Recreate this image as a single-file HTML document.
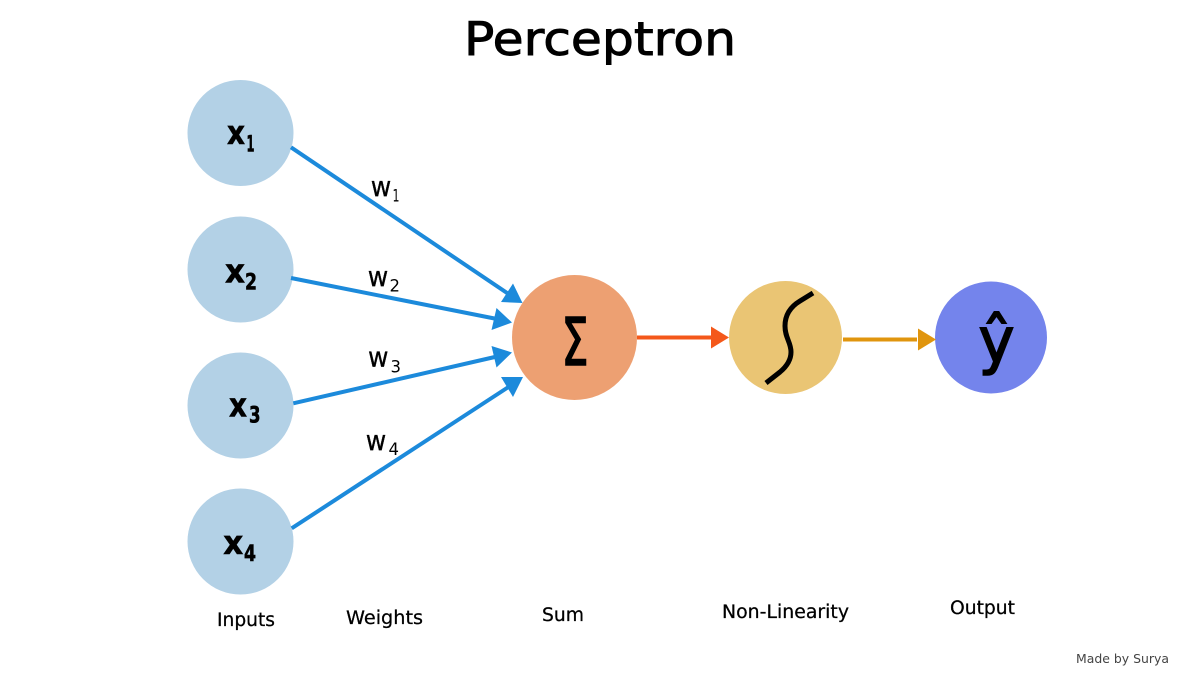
<!DOCTYPE html>
<html>
<head>
<meta charset="utf-8">
<style>
html,body{margin:0;padding:0;background:#fff;width:1200px;height:675px;overflow:hidden}
svg{display:block}
text{font-family:"DejaVu Sans","Liberation Sans",sans-serif;fill:#000}
.b{font-weight:bold;stroke:#000;stroke-width:.6px}
.l{font-size:18.5px;stroke:#000;stroke-width:.25px}
.w{font-size:28px;stroke:#000;stroke-width:.3px}
.s{font-size:17px}
</style>
</head>
<body>
<svg width="1200" height="675" viewBox="0 0 1200 675" xmlns="http://www.w3.org/2000/svg">
<rect width="1200" height="675" fill="#fff"/>
<text x="464" y="55" font-size="46.5" textLength="272" lengthAdjust="spacingAndGlyphs" stroke="#000" stroke-width=".9">Perceptron</text>

<circle cx="240.5" cy="133" r="53" fill="#B3D1E6"/>
<circle cx="240.5" cy="269.5" r="53" fill="#B3D1E6"/>
<circle cx="240.5" cy="405.5" r="53" fill="#B3D1E6"/>
<circle cx="240.5" cy="541.5" r="53" fill="#B3D1E6"/>
<circle cx="574.5" cy="337.5" r="62.5" fill="#EDA072"/>
<circle cx="785.5" cy="337.5" r="56.5" fill="#EAC574"/>
<circle cx="991" cy="337.5" r="56" fill="#7484EC"/>

<g stroke="#1C8ADB" stroke-width="4" fill="none">
<line x1="291" y1="147.3" x2="510" y2="295"/>
<line x1="291" y1="278" x2="497" y2="319"/>
<line x1="293.3" y1="403.3" x2="497" y2="356.5"/>
<line x1="291.7" y1="528.3" x2="510" y2="386"/>
</g>
<g fill="#1C8ADB">
<polygon points="522.5,303 513,283.5 501,302"/>
<polygon points="512,322.5 496.5,308 491.5,330"/>
<polygon points="512,352.5 491.5,346 496.5,367.5"/>
<polygon points="523,377 501,377 513,397"/>
</g>

<line x1="637" y1="337.5" x2="712" y2="337.5" stroke="#F4581A" stroke-width="4"/>
<polygon points="729,337.5 711,326.5 711,348.5" fill="#F4581A"/>
<line x1="843" y1="339.5" x2="917" y2="339.5" stroke="#E0950E" stroke-width="4"/>
<polygon points="936,339.5 918,328.5 918,350.5" fill="#E0950E"/>

<text class="b" x="227" y="144" font-size="33" textLength="18" lengthAdjust="spacingAndGlyphs">x</text>
<text class="b" x="246.5" y="151.7" font-size="22" textLength="8" lengthAdjust="spacingAndGlyphs">1</text>
<text class="b" x="225" y="282.7" font-size="33" textLength="20" lengthAdjust="spacingAndGlyphs">x</text>
<text class="b" x="245" y="289.3" font-size="22" textLength="12" lengthAdjust="spacingAndGlyphs">2</text>
<text class="b" x="229" y="416.7" font-size="33" textLength="18" lengthAdjust="spacingAndGlyphs">x</text>
<text class="b" x="249" y="422.7" font-size="22" textLength="11.5" lengthAdjust="spacingAndGlyphs">3</text>
<text class="b" x="223.3" y="554" font-size="33" textLength="20" lengthAdjust="spacingAndGlyphs">x</text>
<text class="b" x="244" y="561" font-size="22" textLength="12" lengthAdjust="spacingAndGlyphs">4</text>

<text class="w" x="370.7" y="196" textLength="20.5" lengthAdjust="spacingAndGlyphs">w</text>
<text class="s" x="392.5" y="201.7" textLength="7" lengthAdjust="spacingAndGlyphs">1</text>
<text class="w" x="367.7" y="286" textLength="20.5" lengthAdjust="spacingAndGlyphs">w</text>
<text class="s" x="389.5" y="291.7" textLength="10.5" lengthAdjust="spacingAndGlyphs">2</text>
<text class="w" x="368" y="366.7" textLength="20.5" lengthAdjust="spacingAndGlyphs">w</text>
<text class="s" x="390.5" y="372.3" textLength="10.5" lengthAdjust="spacingAndGlyphs">3</text>
<text class="w" x="365.7" y="450" textLength="20.5" lengthAdjust="spacingAndGlyphs">w</text>
<text class="s" x="388.5" y="455" textLength="10.5" lengthAdjust="spacingAndGlyphs">4</text>

<text x="561.5" y="365" font-size="66" textLength="27" lengthAdjust="spacingAndGlyphs" stroke="#000" stroke-width="1.6">Σ</text>
<path d="M813 293 L800 301 C790 307 785 315 785 326 C785 338 791 342 791 352 C791 360 786 367 780 372 L766 383" fill="none" stroke="#000" stroke-width="5"/>
<text x="978.5" y="362" font-size="62" textLength="36" lengthAdjust="spacingAndGlyphs" stroke="#000" stroke-width="1.6">ŷ</text>

<text class="l" x="217" y="626" textLength="58" lengthAdjust="spacingAndGlyphs">Inputs</text>
<text class="l" x="346" y="624" textLength="77" lengthAdjust="spacingAndGlyphs">Weights</text>
<text class="l" x="542" y="621" textLength="42" lengthAdjust="spacingAndGlyphs">Sum</text>
<text class="l" x="722" y="618" textLength="127" lengthAdjust="spacingAndGlyphs">Non-Linearity</text>
<text class="l" x="950" y="614" textLength="65" lengthAdjust="spacingAndGlyphs">Output</text>
<text x="1076" y="663" font-size="12.5" textLength="93" lengthAdjust="spacingAndGlyphs" style="fill:#444">Made by Surya</text>
</svg>
</body>
</html>
